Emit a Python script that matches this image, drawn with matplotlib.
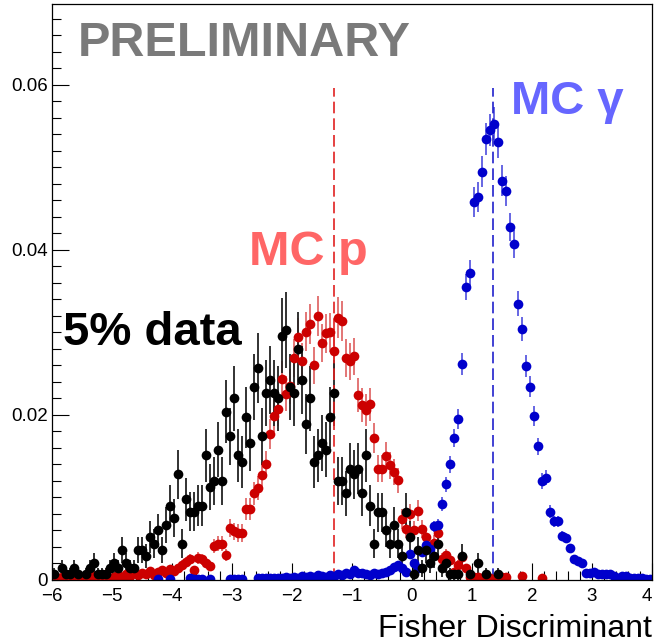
import matplotlib.pyplot as plt
import numpy as np

nan = np.nan

# histogram binning: 150 bins between -6 and 4
x_lo, x_hi, n_bins = -6.0, 4.0, 150

# 5% data (black)
data_5pct = [
    0.0007, nan, 0.0014, 0.0007, 0.0007, 0.0014, 0.0007, nan, 0.0007, 0.0014, 0.0021, 0.0007, 0.0007, 0.0007, 0.0014,
    0.0021, 0.0014, 0.0036, 0.0021, 0.0014, 0.0014, 0.0036, 0.0036, 0.0029, 0.0052, 0.0044, 0.0060, 0.0036, 0.0067, 0.0090,
    0.0075, 0.0128, 0.0044, 0.0098, 0.0083, 0.0083, 0.0090, 0.0090, 0.0151, 0.0113, 0.0120, 0.0158, 0.0120, 0.0204, 0.0174,
    0.0220, 0.0151, 0.0143, 0.0197, 0.0166, 0.0234, 0.0257, 0.0174, 0.0227, 0.0242, 0.0227, 0.0220, 0.0296, 0.0303, 0.0234,
    0.0227, 0.0280, 0.0242, 0.0189, 0.0220, 0.0143, 0.0151, 0.0166, 0.0158, 0.0197, 0.0227, 0.0120, 0.0120, 0.0105, 0.0135,
    0.0128, 0.0135, 0.0105, 0.0151, 0.0090, 0.0044, 0.0082, 0.0082, 0.0060, 0.0044, 0.0067, 0.0044, 0.0029, 0.0082, 0.0052,
    0.0007, 0.0036, 0.0014, 0.0036, 0.0021, 0.0029, 0.0044, 0.0014, 0.0021, 0.0007, 0.0007, 0.0007, 0.0029, nan, 0.0007,
    nan, 0.0021, nan, 0.0007, nan, nan, 0.0007, nan, nan, nan, nan, nan, nan, nan, nan,
    nan, nan, nan, nan, nan, nan, nan, nan, nan, nan, nan, nan, nan, nan, nan,
    nan, nan, nan, nan, nan, nan, nan, nan, nan, nan, nan, nan, nan, nan, nan,
]

# MC protons (red)
mc_p = [
    0.0004, 0.0002, 0.0004, 0.0006, 0.0003, 0.0002, 0.0005, 0.0004, 0.0006, 0.0003, 0.0005, 0.0002, 0.0004, 0.0007, 0.0003,
    0.0004, 0.0006, 0.0003, 0.0007, 0.0005, 0.0008, 0.0006, 0.0009, 0.0007, 0.0011, 0.0006, 0.0010, 0.0012, 0.0009, 0.0013,
    0.0011, 0.0014, 0.0018, 0.0022, 0.0025, 0.0012, 0.0027, 0.0025, 0.0021, 0.0017, 0.0041, 0.0044, 0.0044, 0.0030, 0.0063,
    0.0059, 0.0057, 0.0057, 0.0086, 0.0086, 0.0105, 0.0112, 0.0127, 0.0140, 0.0177, 0.0199, 0.0207, 0.0244, 0.0226, 0.0235,
    0.0269, 0.0294, 0.0265, 0.0301, 0.0310, 0.0260, 0.0320, 0.0287, 0.0299, 0.0300, 0.0278, 0.0318, 0.0314, 0.0269, 0.0265,
    0.0271, 0.0224, 0.0212, 0.0206, 0.0213, 0.0172, 0.0135, 0.0135, 0.0150, 0.0139, 0.0131, 0.0121, 0.0074, 0.0062, 0.0080,
    0.0061, 0.0084, 0.0062, 0.0052, 0.0040, 0.0045, 0.0057, 0.0026, 0.0030, 0.0024, 0.0010, 0.0018, 0.0028, 0.0014, 0.0004,
    0.0004, 0.0004, 0.0002, 0.0002, 0.0002, nan, 0.0003, 0.0004, 0.0004, nan, nan, nan, 0.0005, nan, nan,
    nan, nan, 0.0002, nan, nan, nan, nan, nan, nan, nan, nan, nan, nan, nan, nan,
    nan, nan, nan, nan, nan, nan, nan, nan, nan, nan, nan, nan, nan, nan, nan,
]

# MC gammas (blue)
mc_gamma = [
    nan, nan, nan, nan, nan, nan, nan, nan, nan, nan, nan, nan, nan, nan, nan,
    nan, nan, nan, nan, nan, nan, nan, nan, nan, nan, nan, 0.0001, nan, nan, 0.0001,
    nan, nan, nan, nan, 0.0002, 0.0001, 0.0001, 0.0001, nan, 0.0001, nan, nan, nan, nan, 0.0001,
    0.0001, 0.0001, 0.0001, nan, nan, nan, 0.0002, 0.0002, 0.0002, 0.0003, 0.0002, 0.0003, 0.0003, 0.0004, 0.0003,
    0.0004, 0.0003, 0.0005, 0.0004, 0.0005, 0.0004, 0.0006, 0.0005, 0.0004, 0.0006, 0.0005, 0.0007, 0.0006, 0.0008, 0.0007,
    0.0012, 0.0009, 0.0008, 0.0007, 0.0006, 0.0008, 0.0007, 0.0009, 0.0010, 0.0012, 0.0016, 0.0018, 0.0014, 0.0010, 0.0031,
    0.0020, 0.0015, 0.0034, 0.0042, 0.0038, 0.0065, 0.0067, 0.0092, 0.0116, 0.0140, 0.0172, 0.0195, 0.0262, 0.0355, 0.0372,
    0.0458, 0.0464, 0.0495, 0.0534, 0.0545, 0.0553, 0.0531, 0.0484, 0.0471, 0.0428, 0.0407, 0.0335, 0.0304, 0.0259, 0.0234,
    0.0199, 0.0162, 0.0120, 0.0124, 0.0083, 0.0071, 0.0071, 0.0053, 0.0051, 0.0039, 0.0025, 0.0023, 0.0021, 0.0009, 0.0008,
    0.0010, 0.0007, 0.0007, 0.0007, 0.0007, 0.0005, 0.0003, 0.0005, 0.0005, 0.0003, 0.0002, 0.0002, 0.0002, 0.0001, 0.0001,
]

# weight of a single entry in each histogram (sets the error bars)
w_data = 0.0007
w_p = 0.00019
w_gamma = 0.00007

# cut positions (dashed lines)
cut_p = -1.3
cut_gamma = 1.35
cut_top = 0.0596

plt.rcParams['font.family'] = ['Liberation Sans', 'DejaVu Sans']

edges = np.linspace(x_lo, x_hi, n_bins + 1)
centers = 0.5 * (edges[:-1] + edges[1:])

fig = plt.figure(figsize=(6.55, 6.43), dpi=100)
ax = fig.add_axes([52/655, 1 - 580/643, 600/655, 576/643])


def draw(vals, w, col, ecol):
    v = np.array(vals)
    err = np.sqrt(v * w)
    ax.errorbar(centers, v, yerr=err, fmt='o', color=col, ecolor=ecol,
                ms=7, mew=0, elinewidth=1.3, capsize=0)


draw(mc_p, w_p, '#cc0000', '#e06a6a')
draw(mc_gamma, w_gamma, '#0000cc', '#5a5ae0')
draw(data_5pct, w_data, 'black', '#222222')

ax.plot([cut_p, cut_p], [0, cut_top], color='#e02020', lw=1.2, ls=(0, (7, 3)))
ax.plot([cut_gamma, cut_gamma], [0, cut_top], color='#2020cc', lw=1.2, ls=(0, (7, 3)))

ax.set_xlim(x_lo, x_hi)
ax.set_ylim(0, 0.0698)
ax.set_xticks(np.arange(-6, 5, 1))
ax.set_xticks(np.arange(-6, 4.01, 0.2), minor=True)
ax.set_yticks([0, 0.02, 0.04, 0.06])
ax.set_yticklabels(['0', '0.02', '0.04', '0.06'])
ax.set_yticks(np.arange(0, 0.0699, 0.002), minor=True)
ax.tick_params(which='major', direction='in', length=12.5, width=0.8, labelsize=13.5,
               top=False, right=False)
ax.tick_params(which='minor', direction='in', length=6.5, width=0.8,
               top=False, right=False)
ax.tick_params(axis='y', pad=3)
ax.tick_params(axis='x', pad=6)
for s in ax.spines.values():
    s.set_linewidth(0.9)

fig.canvas.draw()
xlabs = ax.get_xticklabels()
xlabs[-1].set_horizontalalignment('right')
xlabs[-1].set_x(4.0)

fig.text(652/655, 1 - 637/643, 'Fisher Discriminant', ha='right', va='baseline', fontsize=23)

fig.text(78/655, 1 - 56/643, 'PRELIMINARY', color='#7a7a7a', fontweight='bold',
         fontsize=35, ha='left', va='baseline')
fig.text(63/655, 1 - 345/643, '5% data', color='black', fontweight='bold',
         fontsize=34, ha='left', va='baseline')
fig.text(249/655, 1 - 265/643, 'MC p', color='#ff6666', fontweight='bold',
         fontsize=35, ha='left', va='baseline')
fig.text(511/655, 1 - 114/643, 'MC \u03b3', color='#6666ff', fontweight='bold',
         fontsize=34, ha='left', va='baseline')

fig.savefig('out.png', dpi=100)
